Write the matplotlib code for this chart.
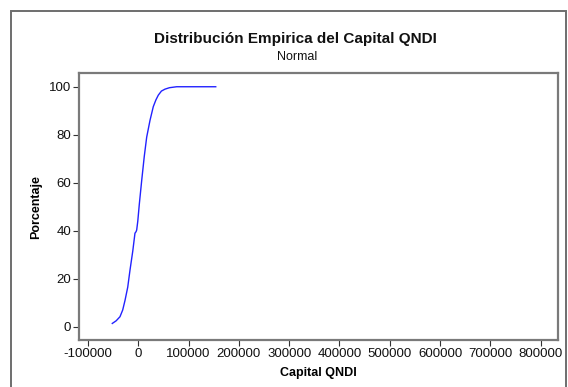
import matplotlib
matplotlib.use("Agg")
import matplotlib.pyplot as plt
from matplotlib.patches import Rectangle
from matplotlib.ticker import FixedLocator, FuncFormatter

# Empirical cumulative distribution of QNDI capital
capital = [-51700, -44000, -36400, -31000, -26400, -21000, -16500, -11000, -6600,
           -4500, -3200, -1000, 2000, 6800, 11900, 16700, 23300, 29800, 35000,
           39800, 46000, 53100, 62000, 76300, 154000]
porcentaje = [1.4, 2.5, 4.2, 7.0, 11.0, 16.5, 23.6, 31.5, 39.0,
              39.6, 40.3, 44.0, 51.0, 61.0, 71.0, 79.0, 86.0, 91.7, 94.5,
              96.5, 98.2, 99.0, 99.6, 100.0, 100.0]

xticks = [-100000, 0, 100000, 200000, 300000, 400000, 500000, 600000, 700000, 800000]
yticks = [0, 20, 40, 60, 80, 100]

title = "Distribución Empirica del Capital QNDI"
subtitle = "Normal"
xlabel = "Capital QNDI"
ylabel = "Porcentaje"

plt.rcParams["font.family"] = ["Liberation Sans", "DejaVu Sans"]

W, H = 568, 387
fig = plt.figure(figsize=(W / 100, H / 100), dpi=100)

# outer frame of the graph window
fig.patches.append(Rectangle((10.7 / W, -0.05), (565.5 - 10.7) / W, 1.05 - 11 / H,
                             transform=fig.transFigure, fill=False,
                             edgecolor="#6e6e6e", linewidth=1.4))

ax = fig.add_axes([79.3 / W, 1 - 340 / H, (557.7 - 79.3) / W, (340 - 73.3) / H])
ax.plot(capital, porcentaje, color="#2222ff", linewidth=1.0)

ax.set_xlim(-117300, 834000)
ax.set_ylim(-5.5, 105.6)
ax.xaxis.set_major_locator(FixedLocator(xticks))
ax.yaxis.set_major_locator(FixedLocator(yticks))
ax.xaxis.set_major_formatter(FuncFormatter(lambda v, p: f"{int(v)}"))
ax.yaxis.set_major_formatter(FuncFormatter(lambda v, p: f"{int(v)}"))

for s in ax.spines.values():
    s.set_color("#7a7a7a")
    s.set_linewidth(1.6)
ax.tick_params(direction="out", length=4, width=0.8, color="#333333",
               labelsize=9.5, pad=2, labelcolor="#111111")

ax.set_xlabel(xlabel, fontsize=9, fontweight="bold", labelpad=5)
ax.set_ylabel(ylabel, fontsize=9, fontweight="bold", labelpad=5)

fig.text(295 / W, 1 - 43 / H, title, ha="center", va="baseline",
         fontsize=11, fontweight="bold", color="#111111")
fig.text(297 / W, 1 - 60 / H, subtitle, ha="center", va="baseline",
         fontsize=9, color="#111111")

fig.savefig("out.png", dpi=100)
